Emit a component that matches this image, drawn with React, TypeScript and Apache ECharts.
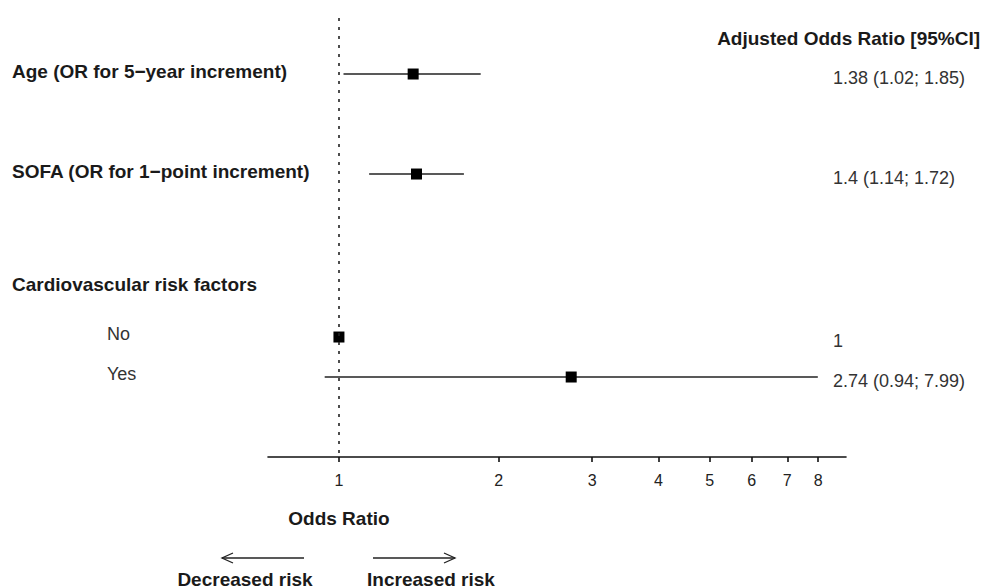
import React, { useEffect, useRef } from "react";
import * as echarts from "echarts";

// ---- data ----
const rowLabels = [
  "Age (OR for 5\u2212year increment)",
  "SOFA (OR for 1\u2212point increment)",
  "Cardiovascular risk factors",
  "No",
  "Yes",
];
const rowLevel = [0, 0, 0, 1, 1];
const oddsRatio: (number | null)[] = [1.38, 1.4, null, 1, 2.74];
const ciLow: (number | null)[] = [1.02, 1.14, null, null, 0.94];
const ciHigh: (number | null)[] = [1.85, 1.72, null, null, 7.99];
const orText = ["1.38 (1.02; 1.85)", "1.4 (1.14; 1.72)", "", "1", "2.74 (0.94; 7.99)"];
const tickValues = [1, 2, 3, 4, 5, 6, 7, 8];
const headerText = "Adjusted Odds Ratio [95%CI]";
const xAxisTitle = "Odds Ratio";
const leftArrowText = "Decreased risk";
const rightArrowText = "Increased risk";
const xMinOR = 0.735;
const xMaxOR = 9.03;

// ---- layout (y axis units 0..1, top to bottom) ----
const rowPos = [0.1276, 0.3554, 0.615, 0.7267, 0.8178];
const headerPos = 0.0456;

const FONT = '"Liberation Sans", Arial, sans-serif';

export default function App() {
  const ref = useRef<HTMLDivElement>(null);

  useEffect(() => {
    if (!ref.current) return;
    const chart = echarts.init(ref.current, null, { renderer: "svg" });
    const ln = Math.log;

    const pointData: number[][] = [];
    const ciData: number[][] = [];
    oddsRatio.forEach((v, i) => {
      if (v != null) pointData.push([ln(v), rowPos[i]]);
      const lo = ciLow[i];
      const hi = ciHigh[i];
      if (lo != null && hi != null) ciData.push([ln(lo), ln(hi), rowPos[i]]);
    });

    chart.setOption({
      animation: false,
      grid: { left: 268, right: 138, top: 18, bottom: 131 },
      xAxis: {
        type: "value",
        min: ln(xMinOR),
        max: ln(xMaxOR),
        splitLine: { show: false },
        axisLine: { show: true, onZero: false, lineStyle: { color: "#111", width: 1.6 } },
        axisTick: {
          show: true,
          customValues: tickValues.map((t) => ln(t)),
          length: 5,
          lineStyle: { color: "#111", width: 1.6 },
        },
        axisLabel: {
          customValues: tickValues.map((t) => ln(t)),
          formatter: (v: number) => String(Math.round(Math.exp(v))),
          margin: 15,
          fontSize: 16,
          color: "#222",
          fontFamily: FONT,
        },
      },
      yAxis: { type: "value", inverse: true, min: 0, max: 1, show: false },
      series: [
        {
          type: "custom",
          z: 2,
          encode: { x: [0, 1], y: 2 },
          data: ciData,
          renderItem: (_params: any, api: any) => {
            const p1 = api.coord([api.value(0), api.value(2)]);
            const p2 = api.coord([api.value(1), api.value(2)]);
            return {
              type: "line",
              shape: { x1: p1[0], y1: p1[1], x2: p2[0], y2: p2[1] },
              style: { stroke: "#222", lineWidth: 1.7 },
            };
          },
        },
        {
          type: "scatter",
          z: 3,
          symbol: "rect",
          symbolSize: 11,
          itemStyle: { color: "#000", opacity: 1 },
          data: pointData,
          markLine: {
            silent: true,
            symbol: ["none", "none"],
            label: { show: false },
            lineStyle: { type: [3, 6], color: "#222", width: 1.6 },
            data: [{ xAxis: 0 }],
          },
        },
      ],
    });

    const yOf = (p: number) => chart.convertToPixel({ gridIndex: 0 }, [0, p])[1] as number;
    const xOne = chart.convertToPixel({ gridIndex: 0 }, [0, 0.5])[0] as number;

    const graphics: any[] = [];
    rowLabels.forEach((lab, i) => {
      const y = yOf(rowPos[i]);
      const bold = rowLevel[i] === 0;
      graphics.push({
        type: "text",
        x: bold ? 12 : 107,
        y: y - 3,
        style: {
          text: lab,
          fill: bold ? "#1a1a1a" : "#333",
          fontSize: bold ? 19 : 18,
          fontWeight: bold ? "bold" : "normal",
          fontFamily: FONT,
          align: "left",
          verticalAlign: "middle",
        },
      });
      if (orText[i]) {
        graphics.push({
          type: "text",
          x: 833,
          y: y + 4,
          style: {
            text: orText[i],
            fill: "#333",
            fontSize: 18,
            fontFamily: FONT,
            align: "left",
            verticalAlign: "middle",
          },
        });
      }
    });
    graphics.push({
      type: "text",
      x: 980,
      y: yOf(headerPos),
      style: {
        text: headerText,
        fill: "#1a1a1a",
        fontSize: 19,
        fontWeight: "bold",
        fontFamily: FONT,
        align: "right",
        verticalAlign: "middle",
      },
    });
    graphics.push({
      type: "text",
      x: xOne,
      y: 518,
      style: {
        text: xAxisTitle,
        fill: "#1a1a1a",
        fontSize: 19,
        fontWeight: "bold",
        fontFamily: FONT,
        align: "center",
        verticalAlign: "middle",
      },
    });
    const arrowY = 558;
    const lineStyle = { stroke: "#222", lineWidth: 1.3, fill: null };
    graphics.push({ type: "line", shape: { x1: 304, y1: arrowY, x2: 222, y2: arrowY }, style: lineStyle });
    graphics.push({
      type: "polyline",
      shape: { points: [[233, arrowY - 5], [222, arrowY], [233, arrowY + 5]] },
      style: lineStyle,
    });
    graphics.push({ type: "line", shape: { x1: 373, y1: arrowY, x2: 455, y2: arrowY }, style: lineStyle });
    graphics.push({
      type: "polyline",
      shape: { points: [[444, arrowY - 5], [455, arrowY], [444, arrowY + 5]] },
      style: lineStyle,
    });
    graphics.push({
      type: "text",
      x: 245,
      y: 579,
      style: {
        text: leftArrowText,
        fill: "#1a1a1a",
        fontSize: 19,
        fontWeight: "bold",
        fontFamily: FONT,
        align: "center",
        verticalAlign: "middle",
      },
    });
    graphics.push({
      type: "text",
      x: 431,
      y: 579,
      style: {
        text: rightArrowText,
        fill: "#1a1a1a",
        fontSize: 19,
        fontWeight: "bold",
        fontFamily: FONT,
        align: "center",
        verticalAlign: "middle",
      },
    });

    chart.setOption({ graphic: graphics });

    return () => chart.dispose();
  }, []);

  return (
    <div
      ref={ref}
      style={{ position: "absolute", left: 0, top: 0, width: 984, height: 588, background: "#fff" }}
    />
  );
}
